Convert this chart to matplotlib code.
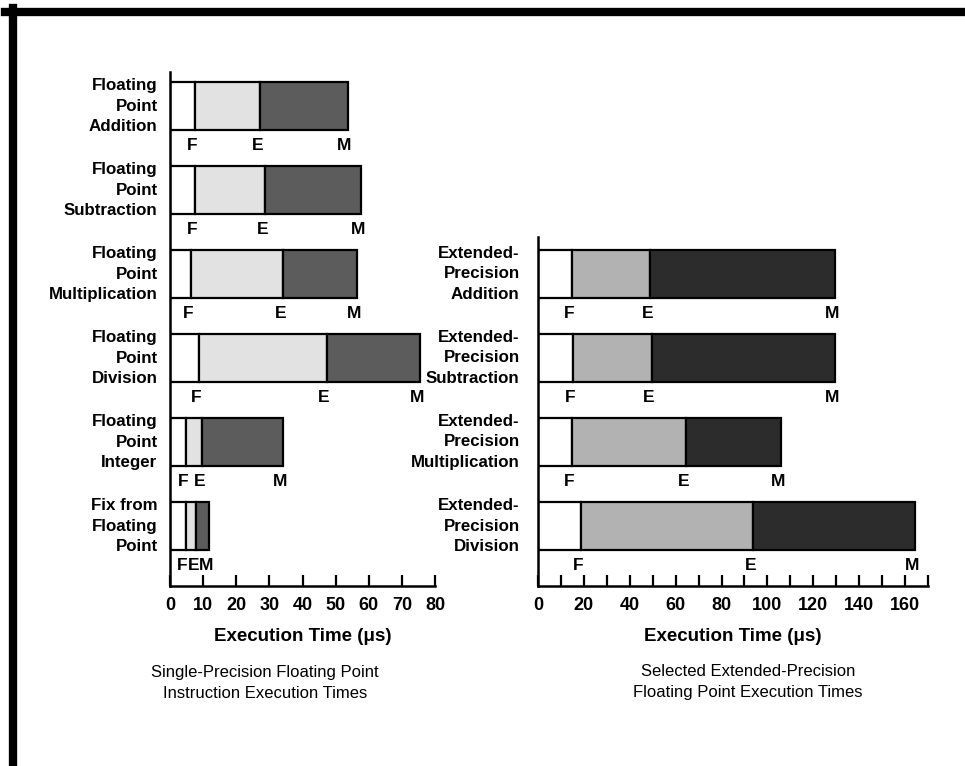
import numpy as np
import matplotlib
matplotlib.use('Agg')
import matplotlib.pyplot as plt
from matplotlib.lines import Line2D
from matplotlib.transforms import offset_copy

plt.rcParams['font.family'] = ['Liberation Sans', 'DejaVu Sans']

# single precision: end time of each phase (F, E, M) in microseconds
left_cats = ['Floating\nPoint\nAddition', 'Floating\nPoint\nSubtraction',
             'Floating\nPoint\nMultiplication', 'Floating\nPoint\nDivision',
             'Floating\nPoint\nInteger', 'Fix from\nFloating\nPoint']
left_f = [7.6, 7.6, 6.3, 8.8, 4.8, 4.7]
left_e = [27.3, 28.8, 34.2, 47.3, 9.8, 7.9]
left_m = [53.6, 57.6, 56.6, 75.5, 34.2, 11.8]

# extended precision
right_cats = ['Extended-\nPrecision\nAddition', 'Extended-\nPrecision\nSubtraction',
              'Extended-\nPrecision\nMultiplication', 'Extended-\nPrecision\nDivision']
right_f = [14.7, 15.3, 14.7, 18.8]
right_e = [49.0, 49.7, 64.7, 93.8]
right_m = [129.4, 129.4, 105.8, 164.4]

phase_names = ['F', 'E', 'M']

W, H = 965, 766
fig = plt.figure(figsize=(W / 100, H / 100), dpi=100)
fig.patch.set_facecolor('white')


def px_axes(x0, x1, y0, y1):
    return fig.add_axes([x0 / W, 1 - y1 / H, (x1 - x0) / W, (y1 - y0) / H])


def draw_panel(ax, cats, f, e, m, colors, xmax, ticks, labels, ylim):
    y = np.arange(len(cats))
    h = 0.58
    starts = [np.zeros(len(cats)), np.array(f), np.array(e)]
    ends = [np.array(f), np.array(e), np.array(m)]
    for s, en, c in zip(starts, ends, colors):
        ax.barh(y, en - s, left=s, height=h, color=c, edgecolor='black',
                linewidth=1.6, zorder=2)
    # phase letters sit just left of each phase boundary
    shifted = offset_copy(ax.transData, fig=fig, x=-3, y=0, units='dots')
    for i in range(len(cats)):
        for en, name in zip(ends, phase_names):
            ax.text(en[i], y[i] + 0.47, name, ha='center', va='center',
                    fontsize=12.5, fontweight='bold', transform=shifted)
        ax.text(-0.047 * xmax, y[i], cats[i], ha='right', va='center',
                fontsize=12.2, fontweight='bold', linespacing=1.48,
                multialignment='right')
    ax.set_xlim(0, xmax)
    ax.set_ylim(*ylim)
    ax.set_yticks([])
    ax.set_xticks(ticks)
    ax.set_xticklabels([str(t) if t in labels else '' for t in ticks],
                       fontsize=13, fontweight='bold')
    ax.tick_params(axis='x', direction='in', length=8, width=1.6, pad=8)
    for s in ['top', 'right']:
        ax.spines[s].set_visible(False)
    for s in ['left', 'bottom']:
        ax.spines[s].set_linewidth(1.8)
    ax.set_xlabel('Execution Time (μs)', fontsize=13.5, fontweight='bold',
                  labelpad=10)


ax1 = px_axes(170, 435, 72, 586)
draw_panel(ax1, left_cats, left_f, left_e, left_m,
           ['white', '#e2e2e2', '#5c5c5c'], 80,
           list(range(0, 81, 10)), list(range(0, 81, 10)), (5.714, -0.405))

ax2 = px_axes(538, 928, 237, 586)
draw_panel(ax2, right_cats, right_f, right_e, right_m,
           ['white', '#b2b2b2', '#2c2c2c'], 170,
           list(range(0, 171, 10)), list(range(0, 161, 20)), (3.714, -0.44))

fig.text(265 / W, 1 - 672 / H, 'Single-Precision Floating Point',
         ha='center', va='center', fontsize=12)
fig.text(265 / W, 1 - 693 / H, 'Instruction Execution Times',
         ha='center', va='center', fontsize=12)
fig.text(748 / W, 1 - 672 / H, 'Selected Extended-Precision',
         ha='center', va='center', fontsize=12)
fig.text(748 / W, 1 - 693 / H, 'Floating Point Execution Times',
         ha='center', va='center', fontsize=12)

# scanned frame
fig.add_artist(Line2D([5 / W, 1], [1 - 11.5 / H, 1 - 11.5 / H],
                      transform=fig.transFigure, color='black', lw=6))
fig.add_artist(Line2D([12.5 / W, 12.5 / W], [0, 1 - 8 / H],
                      transform=fig.transFigure, color='black', lw=6))

fig.savefig('out.png', dpi=100)
